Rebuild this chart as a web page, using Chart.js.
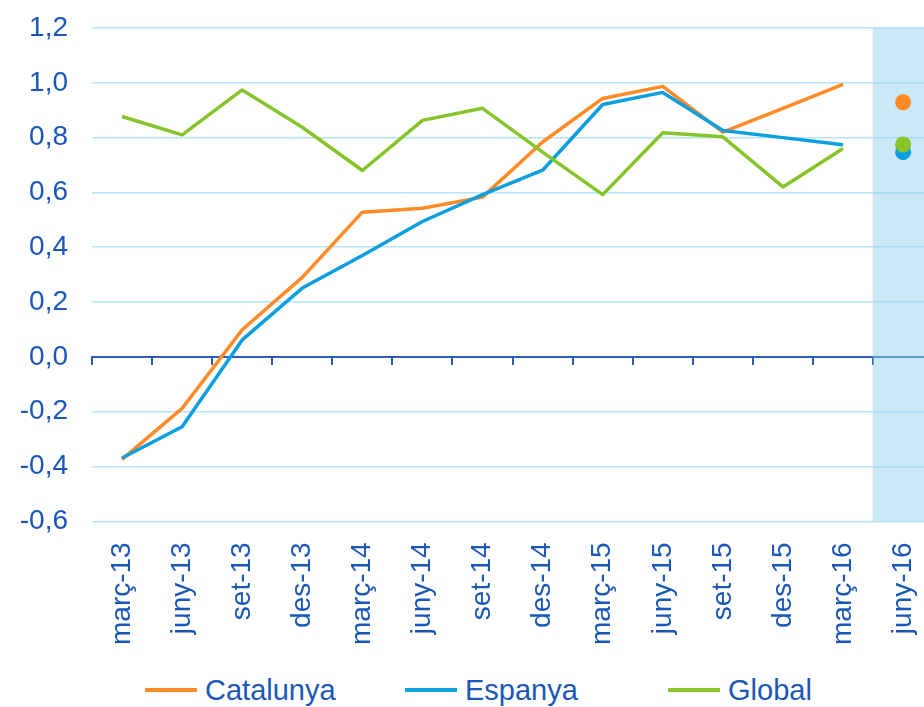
<!DOCTYPE html>
<html>
<head>
<meta charset="utf-8">
<script src="https://cdn.jsdelivr.net/npm/chart.js@4"></script>
<style>
  body { margin: 0; background: #fff; overflow: hidden; width: 924px; height: 707px; position: relative; }
  #wrap { position: absolute; left: 0; top: 0; width: 950px; height: 658px; }
  #legend { position: absolute; left: 0; top: 674px; width: 924px; height: 32px; font-family: "Liberation Sans", Arial, sans-serif; font-size: 29px; line-height: 32px; color: #1a57b9; }
  .item { position: absolute; top: 0; display: flex; align-items: center; }
  .swatch { width: 52px; height: 4px; margin-right: 8px; }
</style>
</head>
<body>
<div id="wrap"><canvas id="chart"></canvas></div>
<div id="legend"></div>
<script>
// quarters
const labels = ["març-13", "juny-13", "set-13", "des-13", "març-14", "juny-14", "set-14",
                "des-14", "març-15", "juny-15", "set-15", "des-15", "març-16", "juny-16"];

const catalunya = [-0.374, -0.188, 0.099, 0.29, 0.528, 0.542, 0.583, 0.784, 0.943, 0.987, 0.82, 0.907, 0.994, 0.929];
const espanya   = [-0.369, -0.255, 0.062, 0.251, 0.37, 0.494, 0.592, 0.681, 0.921, 0.965, 0.826, 0.80, 0.774, 0.747];
const globalSer = [0.877, 0.81, 0.974, 0.838, 0.68, 0.863, 0.907, 0.747, 0.592, 0.818, 0.803, 0.62, 0.76, 0.775];

const seriesNames = ["Catalunya", "Espanya", "Global"];
const colors = ["#ff8a26", "#0b9fe0", "#86c42a"];

const yMin = -0.6, yMax = 1.2, yStep = 0.2;
const forecastIdx = 13; // last quarter is the shaded forecast

const textColor = "#1a57b9";
const axisColor = "#2a5cb8";
const gridColor = "#b7e4f6";

Chart.defaults.font.family = '"Liberation Sans", Arial, sans-serif';
Chart.defaults.color = textColor;

function lineSet(name, data, color, order) {
  return {
    type: "line",
    label: name,
    data: data,
    borderColor: color,
    backgroundColor: color,
    borderWidth: 3.5,
    borderJoinStyle: "round",
    order: order,
    pointRadius: ctx => ctx.dataIndex === forecastIdx ? 8 : 0,
    pointHoverRadius: ctx => ctx.dataIndex === forecastIdx ? 8 : 0,
    pointBorderWidth: 0,
    segment: {
      borderColor: ctx => ctx.p1DataIndex === forecastIdx ? "rgba(0,0,0,0)" : undefined
    }
  };
}

// shaded band for the forecast column
let band = labels.map((l, i) => i === forecastIdx ? [yMin, yMax] : null);

new Chart(document.getElementById("chart"), {
  data: {
    labels: labels,
    datasets: [
      lineSet(seriesNames[0], catalunya, colors[0], 2),
      lineSet(seriesNames[1], espanya, colors[1], 1),
      lineSet(seriesNames[2], globalSer, colors[2], 0),
      {
        type: "bar",
        label: "band",
        data: band,
        backgroundColor: "rgba(150,210,238,0.5)",
        barPercentage: 1,
        categoryPercentage: 1,
        order: 5
      }
    ]
  },
  options: {
    responsive: true,
    maintainAspectRatio: false,
    animation: false,
    layout: { padding: { left: 16, right: 8, top: 0, bottom: 0 } },
    plugins: {
      legend: { display: false },
      tooltip: { enabled: false }
    },
    scales: {
      x: {
        type: "category",
        offset: true,
        grid: { display: false },
        border: { display: false },
        ticks: { minRotation: 90, maxRotation: 90, padding: 13, font: { size: 28 }, autoSkip: false }
      },
      x2: {
        type: "category",
        axis: "x",
        position: { y: 0 },
        offset: true,
        grid: { drawOnChartArea: false, offset: true, tickLength: 7, color: axisColor, lineWidth: 2 },
        border: { color: axisColor, width: 2 },
        ticks: { display: false }
      },
      y: {
        min: yMin,
        max: yMax,
        afterFit: s => { s.width = 76; s.paddingTop = 28; s.paddingBottom = 0; },
        grid: { color: gridColor, lineWidth: 1.5, drawTicks: false },
        border: { display: false },
        ticks: {
          stepSize: yStep,
          padding: 24,
          font: { size: 28 },
          callback: v => (Math.round(v * 10) / 10).toFixed(1).replace(".", ",")
        }
      }
    }
  }
});

// legend as plain html
const legend = document.getElementById("legend");
const legendLeft = [145, 405, 668];
seriesNames.forEach((name, i) => {
  const item = document.createElement("div");
  item.className = "item";
  item.style.left = legendLeft[i] + "px";
  const sw = document.createElement("span");
  sw.className = "swatch";
  sw.style.background = colors[i];
  item.appendChild(sw);
  item.appendChild(document.createTextNode(name));
  legend.appendChild(item);
});
</script>
</body>
</html>
